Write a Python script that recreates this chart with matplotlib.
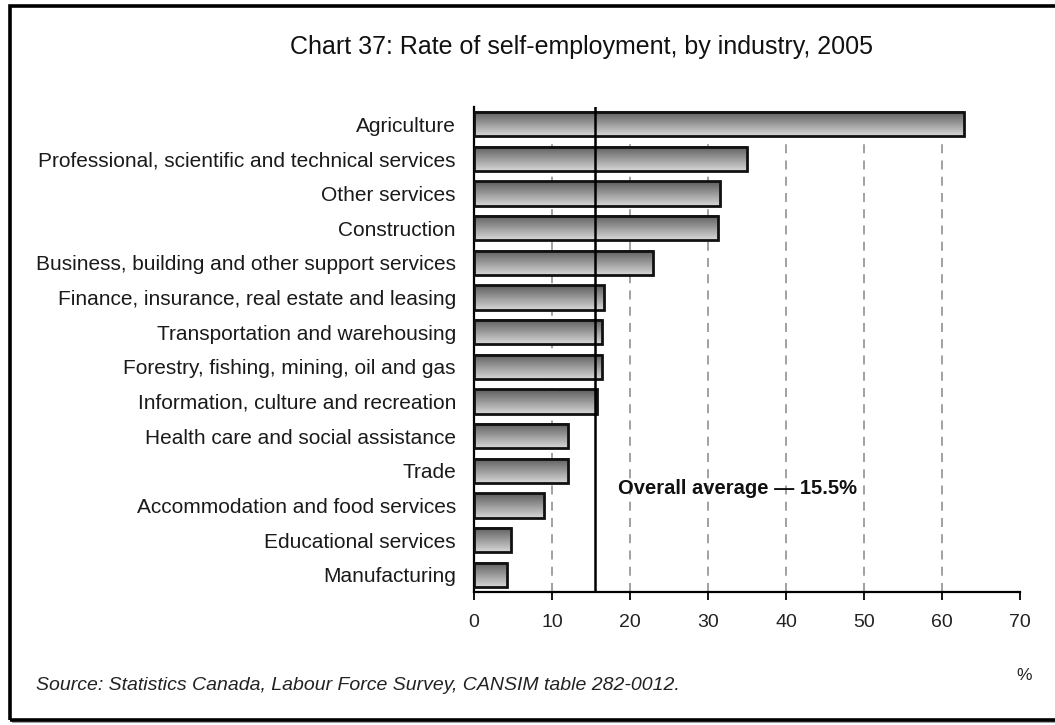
import numpy as np
import matplotlib.pyplot as plt
from matplotlib.patches import Rectangle

plt.rcParams['font.family'] = ['Liberation Sans', 'DejaVu Sans']

industries = [
    'Agriculture',
    'Professional, scientific and technical services',
    'Other services',
    'Construction',
    'Business, building and other support services',
    'Finance, insurance, real estate and leasing',
    'Transportation and warehousing',
    'Forestry, fishing, mining, oil and gas',
    'Information, culture and recreation',
    'Health care and social assistance',
    'Trade',
    'Accommodation and food services',
    'Educational services',
    'Manufacturing',
]
rates = [62.8, 35.0, 31.6, 31.3, 22.9, 16.7, 16.4, 16.4, 15.8, 12.1, 12.1, 9.0, 4.8, 4.2]
overall_avg = 15.5

fig = plt.figure(figsize=(10.55, 7.25), dpi=100)
ax = fig.add_axes([0.4493, 0.1834, 0.5175, 0.669])

# outer frame, open on the right, with a grey shadow under the bottom edge
fig.add_artist(Rectangle((10 / 1055, 1 - 720 / 725), 1.1, (720 - 6) / 725,
                         transform=fig.transFigure, facecolor='none',
                         edgecolor='black', lw=2.6, zorder=1))
fig.add_artist(Rectangle((12 / 1055, 1 - 723 / 725), 1.1, 2 / 725,
                         transform=fig.transFigure, facecolor='#a0a0a0',
                         edgecolor='none', zorder=0))

y = np.arange(len(industries))
h = 0.7

# shaded bars: dark at the top edge, lighter toward the bottom
grad = np.linspace(0.36, 0.84, 64).reshape(-1, 1)
for yi, v in zip(y, rates):
    ax.imshow(grad, cmap='gray', vmin=0, vmax=1, aspect='auto',
              extent=[0, v, yi + h / 2, yi - h / 2], zorder=2,
              interpolation='bilinear')
ax.barh(y, rates, height=h, facecolor='none', edgecolor='#111111',
        linewidth=2.0, zorder=3)

ax.set_ylim(len(industries) - 0.5, -0.5)
ax.set_xlim(0, 70)

for gx in range(10, 70, 10):
    ax.axvline(gx, color='#9a9a9a', lw=1.3, ls=(0, (5, 4)), zorder=1)
ax.axvline(overall_avg, color='black', lw=1.8, zorder=4)

ax.text(18.5, 10.5, f'Overall average \u2014 {overall_avg}%', fontsize=14.5,
        fontweight='bold', va='center', ha='left', color='#111111', zorder=5)

ax.set_yticks(y)
ax.set_yticklabels(industries, fontsize=15, color='#1a1a1a')
ax.tick_params(axis='y', length=0, pad=13)
ax.set_xticks(range(0, 71, 10))
ax.tick_params(axis='x', direction='out', length=6, width=1.3,
               labelsize=14, labelcolor='#222222', pad=10)

for s in ['top', 'right']:
    ax.spines[s].set_visible(False)
ax.spines['left'].set_linewidth(1.6)
ax.spines['bottom'].set_linewidth(1.6)

fig.text(581 / 1055, 1 - 47 / 725, 'Chart 37: Rate of self-employment, by industry, 2005',
         ha='center', va='center', fontsize=18, color='#111111')
fig.text(36 / 1055, 1 - 686 / 725,
         'Source: Statistics Canada, Labour Force Survey, CANSIM table 282-0012.',
         ha='left', va='center', fontsize=14, style='italic', color='#222222')
fig.text(1024 / 1055, 1 - 675 / 725, '%', ha='center', va='center',
         fontsize=12.5, color='#222222')

fig.savefig('out.png', dpi=100)
